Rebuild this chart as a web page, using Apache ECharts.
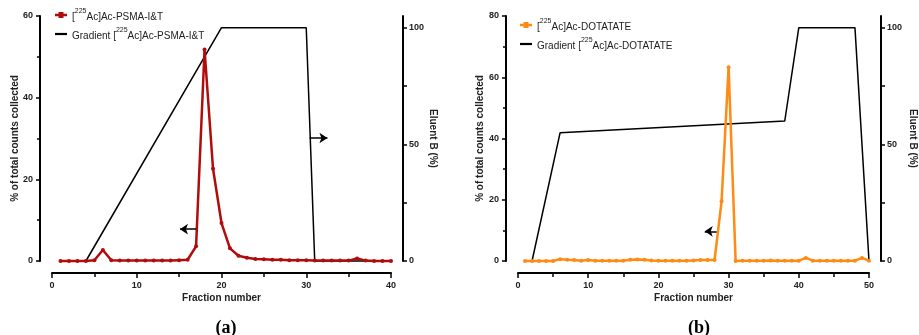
<!DOCTYPE html>
<html>
<head>
<meta charset="utf-8">
<script src="https://cdn.jsdelivr.net/npm/echarts@6/dist/echarts.min.js"></script>
<style>
html, body { margin: 0; padding: 0; background: #fff; }
#main { width: 919px; height: 335px; }
</style>
</head>
<body>
<div id="main"></div>
<script>
// (a) PSMA-I&T
var fractionsA = [1, 2, 3, 4, 5, 6, 7, 8, 9, 10, 11, 12, 13, 14, 15, 16, 17, 18, 19, 20,
    21, 22, 23, 24, 25, 26, 27, 28, 29, 30, 31, 32, 33, 34, 35, 36, 37, 38, 39, 40];
var countsA = [0, 0, 0, 0, 0.2, 2.7, 0.2, 0.1, 0.1, 0.1, 0.1, 0.1, 0.1, 0.1, 0.2, 0.3, 3.6, 51.8, 22.6, 9.3,
    3.1, 1.3, 0.8, 0.5, 0.4, 0.3, 0.3, 0.2, 0.2, 0.2, 0.1, 0.1, 0.1, 0.1, 0.1, 0.6, 0.1, 0, 0, 0];
var gradXA = [4, 20, 30, 31, 40];
var gradYA = [0, 100, 100, 0, 0];

// (b) DOTATATE
var fractionsB = [1, 2, 3, 4, 5, 6, 7, 8, 9, 10, 11, 12, 13, 14, 15, 16, 17, 18, 19, 20,
    21, 22, 23, 24, 25, 26, 27, 28, 29, 30, 31, 32, 33, 34, 35, 36, 37, 38, 39, 40,
    41, 42, 43, 44, 45, 46, 47, 48, 49, 50];
var countsB = [0, 0, 0, 0, 0, 0.6, 0.4, 0.3, 0.1, 0.3, 0.1, 0.1, 0.1, 0.1, 0.1, 0.4, 0.5, 0.4, 0.2, 0.1,
    0.1, 0.1, 0.1, 0.1, 0.2, 0.3, 0.3, 0.3, 19.5, 63.3, 0, 0.1, 0.1, 0.1, 0.1, 0.2, 0.1, 0.1, 0.1, 0.1,
    1.0, 0.1, 0.1, 0.1, 0.1, 0.1, 0.1, 0.1, 1.0, 0.1];
var gradXB = [2, 6, 38, 40, 48, 50];
var gradYB = [0, 55, 60, 100, 100, 0];

// arrows pointing at the axis each curve belongs to
var arrowCountsA = [[17, 7.8], [15.1, 7.8]];
var arrowGradA = [[30.4, 52.7], [32.5, 52.7]];
var arrowCountsB = [[28.3, 9.7], [26.6, 9.7]];
var arrowGradB = [[49.4, 52.8], [50.9, 52.8]];

function pairs(xs, ys) {
    return xs.map(function (x, i) { return [x, ys[i]]; });
}

var myChart = echarts.init(document.getElementById('main'));

var lblStyle = { fontSize: 9, fontWeight: 'bold', color: '#222', fontFamily: 'Liberation Sans' };
var nameStyle = { fontSize: 10, fontWeight: 'bold', color: '#222', fontFamily: 'Liberation Sans' };
var axLine = { show: true, onZero: false, lineStyle: { color: '#000', width: 2 } };

function xAx(grid, max) {
    return {
        type: 'value', gridIndex: grid, min: 0, max: max, interval: 10, offset: 12,
        name: 'Fraction number', nameLocation: 'middle', nameGap: 20, nameMoveOverlap: false,
        nameTextStyle: nameStyle,
        axisLine: axLine, axisTick: { show: true, length: 5, lineStyle: { width: 1.5 } },
        minorTick: { show: true, splitNumber: 2, length: 4, lineStyle: { color: '#000', width: 1.5 } },
        splitLine: { show: false }, axisLabel: Object.assign({ margin: 8 }, lblStyle)
    };
}
function yLeft(grid, max, gap) {
    return {
        type: 'value', gridIndex: grid, min: 0, max: max, interval: 20, offset: 12, position: 'left',
        name: '% of total counts collected', nameLocation: 'middle', nameGap: gap, nameMoveOverlap: false,
        nameTextStyle: nameStyle,
        axisLine: axLine, axisTick: { show: true, length: 4, lineStyle: { width: 1.5 } },
        minorTick: { show: true, splitNumber: 2, length: 3, lineStyle: { color: '#000', width: 1.5 } },
        splitLine: { show: false }, axisLabel: Object.assign({ margin: 7 }, lblStyle)
    };
}
function yRight(grid, gap) {
    return {
        type: 'value', gridIndex: grid, min: 0, max: 105, interval: 25, offset: 12, position: 'right',
        name: 'Eluent B (%)', nameLocation: 'middle', nameGap: gap, nameRotate: -90, nameMoveOverlap: false,
        nameTextStyle: nameStyle,
        axisLine: axLine,
        axisTick: { show: true, length: 4, lineStyle: { width: 1.5 }, customValues: [0, 25, 50, 75, 100] },
        splitLine: { show: false },
        axisLabel: Object.assign({ margin: 6, customValues: [0, 50, 100] }, lblStyle)
    };
}
function arrow(pts) {
    return {
        silent: true, symbol: ['none', 'arrow'], symbolSize: [8, 8],
        lineStyle: { color: '#000', width: 1.5, type: 'solid' },
        label: { show: false }, emphasis: { disabled: true },
        data: [[{ coord: pts[0] }, { coord: pts[1] }]]
    };
}

var legendText = {
    fontSize: 10, color: '#222', fontFamily: 'Liberation Sans',
    rich: {
        n: { fontSize: 10, color: '#222', verticalAlign: 'bottom', lineHeight: 14, fontFamily: 'Liberation Sans' },
        s: { fontSize: 7, color: '#222', verticalAlign: 'top', lineHeight: 14, fontFamily: 'Liberation Sans' }
    }
};
var legendNames = {
    'PSMA': '{n|[}{s|225}{n|Ac]Ac-PSMA-I&T}',
    'GradPSMA': '{n|Gradient [}{s|225}{n|Ac]Ac-PSMA-I&T}',
    'DOTA': '{n|[}{s|225}{n|Ac]Ac-DOTATATE}',
    'GradDOTA': '{n|Gradient [}{s|225}{n|Ac]Ac-DOTATATE}'
};
var barIcon = 'path://M0,0L12,0L12,2.2L0,2.2Z';
var dotIcon = 'path://M0,1.8L3.5,1.8L3.5,0L8.5,0L8.5,1.8L12,1.8L12,4.2L8.5,4.2L8.5,6L3.5,6L3.5,4.2L0,4.2Z';

var option = {
    animation: false,
    title: [
        { text: '{p|(}{b|a}{p|)}', left: 221, top: 314, textAlign: 'center',
          textStyle: { rich: { p: { fontSize: 18, fontFamily: 'Liberation Serif', color: '#000' },
                               b: { fontSize: 18, fontWeight: 'bold', fontFamily: 'Liberation Serif', color: '#000' } } } },
        { text: '{p|(}{b|b}{p|)}', left: 694, top: 314, textAlign: 'center',
          textStyle: { rich: { p: { fontSize: 18, fontFamily: 'Liberation Serif', color: '#000' },
                               b: { fontSize: 18, fontWeight: 'bold', fontFamily: 'Liberation Serif', color: '#000' } } } }
    ],
    legend: [
        { data: [{ name: 'PSMA', icon: dotIcon }, { name: 'GradPSMA', icon: barIcon }],
          orient: 'vertical', left: 50, top: 3, itemGap: 5,
          itemWidth: 12, itemHeight: 6, formatter: function (n) { return legendNames[n]; },
          textStyle: legendText, selectedMode: false },
        { data: [{ name: 'DOTA', icon: dotIcon }, { name: 'GradDOTA', icon: barIcon }],
          orient: 'vertical', left: 515, top: 13, itemGap: 5,
          itemWidth: 12, itemHeight: 6, formatter: function (n) { return legendNames[n]; },
          textStyle: legendText, selectedMode: false }
    ],
    grid: [
        { left: 52, top: 16, width: 339, height: 245 },
        { left: 518, top: 16, width: 351, height: 245 }
    ],
    xAxis: [xAx(0, 40), xAx(1, 50)],
    yAxis: [yLeft(0, 60, 20), yRight(0, 25), yLeft(1, 80, 21), yRight(1, 27)],
    series: [
        { name: 'GradPSMA', type: 'line', xAxisIndex: 0, yAxisIndex: 1, data: pairs(gradXA, gradYA),
          symbol: 'none', clip: false, lineStyle: { color: '#000', width: 1.5 }, itemStyle: { color: '#000' },
          markLine: arrow(arrowGradA) },
        { name: 'PSMA', type: 'line', xAxisIndex: 0, yAxisIndex: 0, data: pairs(fractionsA, countsA),
          symbol: 'circle', symbolSize: 4, clip: false,
          lineStyle: { color: '#b00c0c', width: 2.5 }, itemStyle: { color: '#b00c0c' },
          markLine: arrow(arrowCountsA) },
        { name: 'GradDOTA', type: 'line', xAxisIndex: 1, yAxisIndex: 3, data: pairs(gradXB, gradYB),
          symbol: 'none', clip: false, lineStyle: { color: '#000', width: 1.5 }, itemStyle: { color: '#000' },
          markLine: arrow(arrowGradB) },
        { name: 'DOTA', type: 'line', xAxisIndex: 1, yAxisIndex: 2, data: pairs(fractionsB, countsB),
          symbol: 'circle', symbolSize: 4, clip: false,
          lineStyle: { color: '#ff8a14', width: 2.5 }, itemStyle: { color: '#ff8a14' },
          markLine: arrow(arrowCountsB) }
    ]
};
myChart.setOption(option);
</script>
</body>
</html>
